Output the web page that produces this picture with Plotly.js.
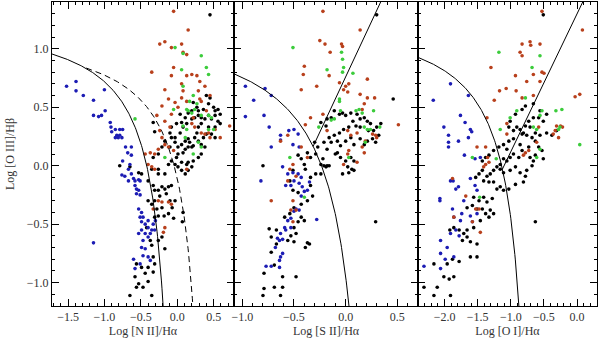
<!DOCTYPE html>
<html>
<head>
<meta charset="utf-8">
<script src="https://cdn.plot.ly/plotly-3.0.1.min.js"></script>
<style>
  html, body { margin: 0; padding: 0; background: #fff; }
  #chart { width: 600px; height: 341px; }
</style>
</head>
<body>
<div id="chart"></div>
<script>
// [x, y] pairs, one list per panel and class
const nBlue = [[-1.52,0.68],[-1.39,0.72],[-1.39,0.64],[-1.29,0.60],[-1.15,0.56],[-1.00,0.65],[-1.15,0.43],[-1.08,0.42],[-1.04,0.43],[-0.99,0.47],[-1.15,-0.66],[-0.92,0.37],[-0.91,0.33],[-0.90,0.29],[-0.85,0.31],[-0.83,0.26],[-0.79,0.26],[-0.79,0.31],[-0.81,0.24],[-0.76,0.24],[-0.85,0.24],[-0.75,0.31],[-0.71,0.16],[-0.63,0.16],[-0.68,0.11],[-0.63,0.09],[-0.75,0.04],[-0.65,0.01],[-0.67,-0.03],[-0.63,-0.07],[-0.76,-0.08],[-0.72,-0.09],[-0.67,-0.13],[-0.58,-0.13],[-0.53,-0.12],[-0.60,-0.11],[-0.51,-0.13],[-0.58,-0.17],[-0.56,-0.20],[-0.53,-0.21],[-0.56,-0.24],[-0.51,-0.25],[-0.53,-0.37],[-0.49,-0.40],[-0.51,-0.44],[-0.47,-0.44],[-0.49,-0.48],[-0.44,-0.50],[-0.40,-0.47],[-0.40,-0.53],[-0.49,-0.55],[-0.53,-0.58],[-0.44,-0.58],[-0.37,-0.58],[-0.47,-0.64],[-0.40,-0.61],[-0.35,-0.55],[-0.31,-0.55],[-0.33,-0.50],[-0.30,-0.47],[-0.47,-0.77],[-0.40,-0.78],[-0.37,-0.81],[-0.51,-0.84],[-0.58,-0.88],[-0.60,-0.80],[-0.49,-0.70],[-0.44,-0.71]];
const nBlack = [[0.45,1.29],[-0.79,0.00],[-0.65,-0.01],[-0.53,-0.06],[-0.49,-0.07],[-0.35,-0.03],[-0.40,-0.13],[-0.33,-0.17],[-0.31,-0.21],[-0.26,-0.21],[-0.21,-0.18],[-0.17,-0.20],[-0.12,-0.18],[-0.08,-0.17],[-0.24,-0.26],[-0.15,-0.24],[-0.31,-0.30],[-0.35,-0.33],[-0.40,-0.30],[-0.28,-0.37],[-0.21,-0.36],[-0.10,-0.30],[-0.07,-0.36],[-0.12,-0.41],[-0.18,-0.43],[-0.26,-0.43],[-0.31,-0.44],[-0.42,-0.53],[-0.37,-0.64],[-0.35,-0.68],[-0.26,-0.64],[-0.21,-0.61],[-0.17,-0.71],[-0.05,-0.45],[0.07,-0.48],[0.08,-0.40],[-0.03,-0.30],[-0.33,-0.78],[-0.31,-0.84],[-0.40,-0.87],[-0.49,-0.87],[-0.56,-0.84],[-0.58,-0.95],[-0.53,-1.01],[-0.47,-1.04],[-0.56,-1.04],[-0.65,-1.11],[-0.35,-1.11],[-0.40,-0.99],[-0.44,-0.92],[-0.33,-0.91],[-0.26,-0.07],[-0.26,-0.03],[-0.17,-0.07],[-0.12,0.01],[-0.08,0.04],[-0.03,0.01],[0.01,-0.01],[0.06,-0.04],[0.11,-0.07],[0.15,-0.04],[0.20,-0.01],[0.13,0.01],[0.06,0.03],[-0.01,0.07],[0.01,0.10],[0.08,0.11],[0.11,0.14],[0.15,0.16],[0.20,0.16],[0.22,0.17],[0.17,0.20],[0.15,0.23],[0.11,0.21],[0.06,0.18],[0.01,0.16],[-0.03,0.20],[-0.08,0.24],[-0.10,0.16],[-0.03,0.24],[0.04,0.28],[0.08,0.33],[0.13,0.36],[0.20,0.40],[0.24,0.41],[0.29,0.43],[0.33,0.41],[0.38,0.40],[0.43,0.43],[0.47,0.40],[0.52,0.43],[0.56,0.38],[0.59,0.36],[0.52,0.33],[0.43,0.33],[0.33,0.36],[0.29,0.33],[0.27,0.28],[0.24,0.24],[0.29,0.21],[0.33,0.18],[0.38,0.16],[0.40,0.27],[0.36,0.24],[0.47,0.27],[0.52,0.24],[0.33,0.10],[0.29,0.07],[0.22,0.04],[0.15,0.03],[0.43,0.53],[0.50,0.50],[0.52,0.47],[0.45,0.58],[0.40,0.60],[0.36,0.48],[0.29,0.47],[0.27,0.50],[0.22,0.54],[0.20,0.47],[0.15,0.45],[0.11,0.41],[0.04,0.44],[0.06,0.37],[-0.01,0.36],[-0.08,0.33],[-0.10,0.28],[-0.17,0.21],[-0.21,0.16],[-0.26,0.10],[-0.33,0.07],[0.56,0.48],[0.59,0.44],[-0.33,0.37],[-0.31,0.29]];
const nRed = [[-0.05,1.32],[0.15,1.16],[-0.24,1.04],[-0.17,1.06],[0.06,1.04],[0.08,0.97],[0.13,0.95],[-0.08,1.01],[-0.05,0.84],[-0.35,0.80],[-0.08,0.77],[0.13,0.77],[0.20,0.78],[0.27,0.77],[0.31,0.72],[0.38,0.68],[0.29,0.64],[0.45,0.60],[0.33,0.55],[0.31,0.57],[0.40,0.47],[0.06,0.70],[0.08,0.64],[-0.17,0.65],[-0.12,0.57],[-0.21,0.51],[-0.28,0.43],[-0.08,0.44],[0.01,0.50],[0.13,0.55],[0.06,0.58],[-0.03,0.54],[0.22,0.41],[0.20,0.36],[0.24,0.33],[0.33,0.28],[0.38,0.27],[0.43,0.28],[0.45,0.24],[0.52,0.31],[0.59,0.24],[0.72,0.34],[-0.17,0.38],[-0.10,0.33],[-0.24,0.30],[-0.21,0.24],[-0.17,0.18],[-0.12,0.16],[-0.05,0.13],[-0.26,0.14],[-0.31,0.10],[-0.37,0.11],[-0.44,0.10],[-0.40,0.01],[-0.35,-0.01],[-0.31,-0.03],[-0.26,-0.30],[-0.21,-0.31],[-0.12,-0.31],[-0.33,-0.37],[-0.17,-0.53],[-0.19,-0.57],[-0.08,-0.33],[0.13,-0.03]];
const nGreen = [[-0.03,1.01],[0.08,0.96],[0.33,0.94],[0.40,0.84],[0.06,0.82],[0.43,0.78],[0.08,0.68],[0.22,0.60],[0.17,0.55],[-0.05,0.48],[0.13,0.48],[0.15,0.47],[0.20,0.45],[0.24,0.48],[0.33,0.43],[0.43,0.43],[0.47,0.41],[0.50,0.31],[0.43,0.31],[0.29,0.20],[0.33,0.16],[-0.58,0.40],[-0.17,0.07],[0.08,0.34],[0.13,0.31],[0.11,0.24],[0.22,0.10],[0.27,0.53]];

const sBlue = [[-0.97,0.68],[-0.89,0.56],[-0.72,0.60],[-0.78,0.66],[-0.97,0.42],[-0.79,0.43],[-0.74,0.33],[-0.63,0.26],[-0.63,0.22],[-0.72,0.16],[-0.55,0.30],[-0.50,0.31],[-0.46,0.27],[-0.51,0.18],[-0.45,0.16],[-0.82,-0.13],[-0.61,-0.01],[-0.56,-0.07],[-0.51,-0.06],[-0.46,-0.07],[-0.43,-0.10],[-0.50,-0.13],[-0.53,-0.17],[-0.58,-0.17],[-0.45,-0.15],[-0.42,-0.18],[-0.40,-0.22],[-0.37,-0.21],[-0.35,-0.14],[-0.43,-0.26],[-0.48,-0.37],[-0.45,-0.38],[-0.50,-0.39],[-0.28,-0.46],[-0.53,-0.45],[-0.56,-0.47],[-0.59,-0.53],[-0.63,-0.58],[-0.66,-0.62],[-0.64,-0.64],[-0.61,-0.63],[-0.68,-0.70],[-0.61,-0.75],[-0.63,-0.78],[-0.64,-0.81],[-0.77,-0.86],[-0.72,-0.86],[-0.64,-0.87],[-0.53,-0.53],[-0.58,-0.55]];
const sBlack = [[0.30,1.29],[-0.80,0.00],[-0.34,0.07],[-0.29,0.10],[-0.24,0.01],[-0.22,0.06],[-0.18,0.00],[-0.19,-0.01],[-0.24,-0.07],[-0.29,-0.07],[-0.34,-0.10],[-0.39,-0.03],[-0.40,0.01],[-0.43,0.06],[-0.46,0.09],[-0.37,0.11],[-0.51,-0.04],[-0.54,-0.13],[-0.51,-0.21],[-0.46,-0.23],[-0.34,-0.17],[-0.32,-0.26],[-0.37,-0.30],[-0.43,-0.33],[-0.50,-0.36],[-0.54,-0.41],[-0.59,-0.44],[-0.43,-0.44],[-0.40,-0.47],[-0.46,-0.48],[-0.50,-0.53],[-0.53,-0.60],[-0.56,-0.64],[-0.50,-0.65],[-0.48,-0.58],[-0.35,-0.67],[-0.39,-0.70],[-0.37,-0.66],[-0.74,-0.54],[-0.67,-0.55],[-0.72,-0.61],[-0.67,-0.67],[-0.72,-0.74],[-0.69,-0.85],[-0.79,-0.92],[-0.79,-1.05],[-0.69,-1.04],[-0.63,-1.11],[-0.61,-1.04],[-0.61,-0.95],[-0.48,-0.95],[-0.80,-1.11],[0.29,-0.48],[-0.14,0.41],[-0.18,0.40],[-0.24,0.37],[-0.19,0.34],[-0.11,0.47],[-0.06,0.44],[-0.03,0.45],[0.00,0.43],[0.05,0.45],[0.07,0.38],[0.11,0.44],[0.14,0.40],[0.18,0.41],[0.21,0.38],[0.24,0.36],[0.30,0.33],[0.34,0.36],[0.46,0.57],[0.32,0.26],[0.27,0.30],[0.22,0.30],[0.14,0.33],[0.10,0.34],[0.03,0.33],[-0.02,0.31],[-0.06,0.28],[-0.11,0.26],[-0.16,0.24],[-0.21,0.20],[-0.14,0.20],[-0.08,0.21],[-0.05,0.17],[0.00,0.21],[0.05,0.24],[0.08,0.18],[0.14,0.23],[0.18,0.18],[0.21,0.21],[0.26,0.23],[0.29,0.20],[-0.10,0.10],[-0.05,0.07],[0.00,0.04],[0.05,0.07],[0.08,0.04],[0.02,-0.01],[0.06,-0.03],[0.03,-0.06],[0.08,-0.04],[-0.03,-0.07],[-0.16,0.00],[-0.21,0.00],[-0.08,0.11],[-0.18,0.14],[-0.27,0.16],[-0.30,0.20]];
const sRed = [[-0.22,1.32],[0.14,1.16],[-0.25,1.07],[-0.20,1.04],[-0.15,0.97],[-0.04,1.04],[-0.03,1.02],[-0.40,0.85],[-0.16,0.77],[-0.41,0.78],[-0.43,0.65],[-0.28,0.68],[-0.06,0.71],[0.00,0.68],[-0.02,0.65],[0.03,0.70],[0.02,0.63],[0.21,0.74],[0.14,0.61],[0.21,0.58],[0.28,0.58],[0.18,0.53],[0.16,0.48],[-0.34,0.41],[-0.22,0.44],[-0.39,0.35],[-0.18,0.30],[0.02,0.30],[0.05,0.26],[0.11,0.28],[0.26,0.27],[0.29,0.26],[0.30,0.24],[0.19,0.21],[0.16,0.16],[0.18,0.11],[0.03,0.13],[0.02,0.10],[-0.02,0.01],[0.51,0.35],[-0.56,0.26],[-0.63,0.21],[-0.43,0.16],[-0.37,0.07],[-0.51,0.01],[-0.54,-0.03],[-0.48,-0.09],[-0.56,-0.13],[-0.51,-0.30],[-0.72,-0.30],[-0.53,-0.38],[-0.48,-0.38],[-0.51,-0.48],[0.11,0.03]];
const sGreen = [[-0.51,1.01],[-0.04,0.97],[-0.03,0.91],[-0.18,0.82],[-0.02,0.84],[0.07,0.79],[-0.03,0.80],[-0.06,0.57],[-0.11,0.40],[-0.14,0.39],[-0.26,0.33],[-0.05,0.47],[0.10,0.47],[0.13,0.48],[0.16,0.45],[0.27,0.47],[0.18,0.33],[0.21,0.31],[0.24,0.31],[0.33,0.33],[0.19,0.20],[0.03,0.07],[-0.54,0.07],[-0.40,-0.27],[-0.06,0.55]];

const oBlue = [[-1.91,0.70],[-2.17,0.56],[-1.64,0.60],[-1.76,0.43],[-2.01,0.33],[-1.69,0.37],[-1.61,0.31],[-1.59,0.29],[-1.94,0.26],[-1.94,0.20],[-1.79,0.21],[-1.64,0.24],[-1.94,0.16],[-1.70,0.09],[-1.54,0.06],[-1.46,0.07],[-1.61,-0.11],[-1.91,-0.13],[-1.87,-0.13],[-1.83,-0.20],[-1.79,-0.18],[-1.54,-0.17],[-1.51,-0.21],[-2.07,-0.28],[-2.07,-0.30],[-1.88,-0.37],[-1.71,-0.30],[-1.86,-0.44],[-1.76,-0.47],[-1.74,-0.41],[-1.61,-0.43],[-1.51,-0.41],[-1.58,-0.48],[-1.83,-0.55],[-1.78,-0.60],[-1.91,-0.58],[-2.06,-0.64],[-1.96,-0.70],[-2.06,-0.75],[-1.99,-0.80],[-2.06,-0.88],[-2.31,-0.86],[-1.86,-0.78]];
const oBlack = [[-0.51,1.29],[-1.16,0.01],[-1.11,0.06],[-1.06,0.04],[-1.01,0.07],[-0.96,0.10],[-0.88,0.07],[-0.93,-0.01],[-1.01,-0.04],[-1.11,-0.06],[-1.16,-0.03],[-1.21,-0.01],[-1.26,-0.04],[-1.31,-0.07],[-1.36,-0.09],[-1.43,-0.04],[-1.48,-0.07],[-1.53,-0.10],[-1.41,-0.13],[-1.33,-0.14],[-1.26,-0.14],[-1.16,-0.18],[-1.21,-0.20],[-1.11,-0.21],[-1.03,-0.20],[-0.93,-0.16],[-0.81,-0.14],[-0.78,-0.09],[-0.86,-0.06],[-0.76,-0.04],[-0.68,0.00],[-0.66,0.04],[-0.71,0.07],[-0.63,0.09],[-0.53,0.13],[-0.51,0.06],[-0.58,0.16],[-0.63,0.21],[-0.68,0.24],[-0.76,0.26],[-0.83,0.27],[-0.81,0.28],[-0.86,0.31],[-0.91,0.33],[-0.96,0.30],[-1.03,0.33],[-1.01,0.38],[-0.93,0.44],[-0.83,0.48],[-0.78,0.51],[-0.66,0.53],[-0.56,0.47],[-0.51,0.38],[-0.46,0.44],[-0.58,0.41],[-0.66,0.41],[-0.73,0.38],[-0.78,0.34],[-0.71,0.33],[-0.63,0.28],[-0.56,0.26],[-0.46,0.28],[-0.38,0.26],[-0.31,0.30],[-0.96,0.23],[-1.03,0.21],[-1.11,0.18],[-1.18,0.16],[-1.26,0.13],[-1.33,0.09],[-1.38,0.07],[-1.43,0.04],[-1.06,0.14],[-0.86,0.18],[-0.83,0.13],[-0.73,0.16],[-0.63,-0.48],[-1.56,-0.27],[-1.48,-0.30],[-1.41,-0.27],[-1.36,-0.31],[-1.43,-0.37],[-1.51,-0.37],[-1.58,-0.34],[-1.66,-0.36],[-1.38,-0.41],[-1.31,-0.38],[-1.26,-0.41],[-1.33,-0.44],[-1.46,-0.47],[-1.56,-0.53],[-1.66,-0.55],[-1.71,-0.58],[-1.66,-0.61],[-1.73,-0.64],[-1.61,-0.65],[-1.51,-0.67],[-1.51,-0.78],[-1.61,-0.78],[-1.78,-0.82],[-1.88,-0.80],[-1.96,-0.84],[-2.16,-0.84],[-2.01,-0.95],[-1.93,-0.97],[-1.86,-0.95],[-2.11,-1.04],[-2.31,-1.04],[-2.16,-1.11],[-1.91,-1.11],[-1.78,-0.55],[-1.86,-0.53],[-1.92,-0.55],[-1.28,-0.28]];
const oRed = [[-0.53,1.32],[0.08,1.16],[-0.83,1.04],[-0.71,1.06],[-0.70,1.03],[-0.56,1.04],[-0.86,0.97],[-0.83,0.94],[-1.30,0.84],[-0.93,0.77],[-0.66,0.78],[-0.53,0.80],[-0.50,0.79],[-0.76,0.72],[-0.56,0.72],[-1.17,0.64],[-1.07,0.66],[-0.92,0.64],[-1.25,0.56],[-0.83,0.58],[-0.66,0.60],[-0.03,0.59],[0.04,0.61],[-1.36,0.41],[-1.06,0.36],[-1.06,0.27],[-0.58,0.33],[-0.31,0.34],[-0.25,0.34],[-0.22,0.33],[-0.33,0.30],[-0.36,0.27],[-0.28,0.24],[-0.61,0.20],[-0.78,0.11],[-0.81,0.09],[-0.73,0.13],[-1.38,0.16],[-1.51,0.16],[-1.35,0.07],[-1.33,0.03],[-1.38,0.01],[-1.41,-0.01],[-1.88,-0.11],[-1.68,-0.26],[-1.53,-0.37],[-1.48,-0.37],[-1.86,-0.44],[-1.58,-0.48],[-1.46,-0.57]];
const oGreen = [[-1.18,0.97],[-0.56,0.94],[-0.68,0.84],[-0.78,0.58],[-0.91,0.47],[-1.01,0.41],[-0.53,0.47],[-0.32,0.47],[-0.23,0.48],[-0.56,0.43],[-0.61,0.31],[-0.66,0.33],[-1.16,0.31],[-0.26,0.33],[-0.28,0.31],[-0.56,0.14],[-0.61,0.07],[0.04,0.18],[-1.22,0.06],[-1.58,0.07],[-1.47,-0.27]];

// axis ranges
const yRange = [-1.2, 1.4];
const nRange = [-1.72, 0.78];
const sRange = [-1.08, 0.70];
const oRange = [-2.4, 0.3];

const colors = { black: '#000000', blue: '#1c1cb4', red: '#b8401c', green: '#3ccc3c' };

// demarcation curves: y = a/(x - b) + c, and straight Seyfert/LINER lines y = m*x + k
function hyper(a, b, c, x0, yMin) {
  const x1 = b + a / (yMin - c);   // where the curve hits the bottom of the plot
  const xs = [], ys = [];
  for (let i = 0; i <= 200; i++) {
    const x = x0 + (x1 - x0) * i / 200;
    xs.push(x); ys.push(a / (x - b) + c);
  }
  return { x: xs, y: ys };
}
function straight(m, k, x0, yMax) {
  return { x: [x0, (yMax - k) / m], y: [m * x0 + k, yMax] };
}

function pts(list, color, xa, ya) {
  return {
    x: list.map(p => p[0]), y: list.map(p => p[1]),
    xaxis: xa, yaxis: ya, type: 'scatter', mode: 'markers',
    marker: { color: color, size: 3.6 }, hoverinfo: 'skip', showlegend: false
  };
}
function line(c, xa, ya, dash) {
  return {
    x: c.x, y: c.y, xaxis: xa, yaxis: ya, type: 'scatter', mode: 'lines',
    line: { color: '#000', width: 1, dash: dash || 'solid' }, hoverinfo: 'skip', showlegend: false
  };
}

const kauff = hyper(0.61, 0.05, 1.30, nRange[0], yRange[0]);
const kewN = hyper(0.61, 0.47, 1.19, -1.25, yRange[0]);
const kewS = hyper(0.72, 0.32, 1.30, sRange[0], yRange[0]);
const kewO = hyper(0.73, -0.59, 1.33, oRange[0], yRange[0]);
const seyS = straight(1.89, 0.76, -0.315, yRange[1]);
const seyO = straight(1.18, 1.30, -1.127, yRange[1]);

const traces = [
  pts(nBlack, colors.black, 'x', 'y'), pts(nBlue, colors.blue, 'x', 'y'),
  pts(nRed, colors.red, 'x', 'y'), pts(nGreen, colors.green, 'x', 'y'),
  pts(sBlack, colors.black, 'x2', 'y2'), pts(sBlue, colors.blue, 'x2', 'y2'),
  pts(sRed, colors.red, 'x2', 'y2'), pts(sGreen, colors.green, 'x2', 'y2'),
  pts(oBlack, colors.black, 'x3', 'y3'), pts(oBlue, colors.blue, 'x3', 'y3'),
  pts(oRed, colors.red, 'x3', 'y3'), pts(oGreen, colors.green, 'x3', 'y3'),
  line(kauff, 'x', 'y'), line(kewN, 'x', 'y', '6px,4px'),
  line(kewS, 'x2', 'y2'), line(seyS, 'x2', 'y2'),
  line(kewO, 'x3', 'y3'), line(seyO, 'x3', 'y3')
];

const font = { family: 'Liberation Serif, Times New Roman, serif', size: 12, color: '#333' };

function xAxis(range, domain, title, y) {
  return {
    domain: domain, range: range, anchor: y, showgrid: false, zeroline: false,
    showline: true, linecolor: '#000', linewidth: 1, mirror: 'ticks',
    ticks: 'inside', ticklen: 7, tickcolor: '#000', dtick: 0.5, tick0: 0, tickformat: '.1f',
    minor: { ticks: 'inside', ticklen: 3, dtick: 0.1, tickcolor: '#000' },
    tickfont: font, title: { text: title, font: font, standoff: 3 }, automargin: false
  };
}
function yAxis(x, labels) {
  return {
    domain: [0, 1], range: yRange, anchor: x, showgrid: false, zeroline: false,
    showline: true, linecolor: '#000', linewidth: 1, mirror: 'ticks',
    ticks: 'inside', ticklen: 7, tickcolor: '#000', dtick: 0.5, tick0: 0, tickformat: '.1f',
    minor: { ticks: 'inside', ticklen: 3, dtick: 0.1, tickcolor: '#000' },
    showticklabels: labels, tickfont: font, automargin: false
  };
}

const layout = {
  width: 600, height: 341,
  margin: { l: 52, r: 3, t: 2, b: 35 },
  paper_bgcolor: '#fff', plot_bgcolor: '#fff',
  font: font,
  xaxis: xAxis(nRange, [0, 0.334], 'Log [N II]/Hα', 'y'),
  xaxis2: xAxis(sRange, [0.334, 0.6716], 'Log [S II]/Hα', 'y2'),
  xaxis3: xAxis(oRange, [0.6716, 1], 'Log [O I]/Hα', 'y3'),
  yaxis: Object.assign(yAxis('x', true), { title: { text: 'Log [O III]/Hβ', font: font, standoff: 9 } }),
  yaxis2: yAxis('x2', false),
  yaxis3: yAxis('x3', false)
};

Plotly.newPlot('chart', traces, layout, { staticPlot: true, displayModeBar: false });
</script>
</body>
</html>
